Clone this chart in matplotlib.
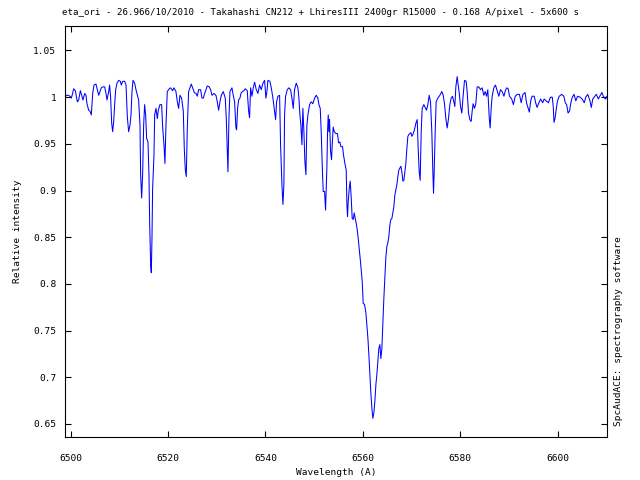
#spectrum of eta ori around H-alpha, values
import matplotlib
matplotlib.use('Agg')
import matplotlib.pyplot as plt
from matplotlib.ticker import FuncFormatter, MultipleLocator

title = 'eta_ori - 26.966/10/2010 - Takahashi CN212 + LhiresIII 2400gr R15000 - 0.168 A/pixel - 5x600 s'

#wavelength (A)
wavelength = [6498.80, 6498.87, 6499.08, 6499.49, 6499.90, 6500.17, 6500.38, 6500.65, 6500.99, 6501.20,
    6501.40, 6501.68, 6502.02, 6502.36, 6502.56, 6502.91, 6503.18, 6503.38, 6503.73, 6504.00,
    6504.27, 6504.55, 6504.82, 6505.23, 6505.50, 6505.78, 6506.05, 6506.32, 6506.60, 6507.01,
    6507.28, 6507.49, 6507.83, 6508.03, 6508.24, 6508.45, 6508.65, 6508.86, 6509.06, 6509.27,
    6509.54, 6509.88, 6510.22, 6510.43, 6510.70, 6511.11, 6511.39, 6511.66, 6511.93, 6512.21,
    6512.41, 6512.62, 6512.82, 6513.16, 6513.44, 6513.78, 6513.98, 6514.26, 6514.39, 6514.60,
    6514.80, 6515.01, 6515.21, 6515.42, 6515.62, 6515.90, 6516.10, 6516.24, 6516.45, 6516.58,
    6516.72, 6516.85, 6517.13, 6517.27, 6517.54, 6517.81, 6518.02, 6518.36, 6518.70, 6518.91,
    6519.18, 6519.38, 6519.59, 6519.86, 6520.27, 6520.55, 6520.96, 6521.23, 6521.64, 6521.92,
    6522.19, 6522.46, 6522.80, 6523.15, 6523.35, 6523.56, 6523.76, 6523.97, 6524.24, 6524.51,
    6524.79, 6525.06, 6525.40, 6525.74, 6526.02, 6526.29, 6526.70, 6526.98, 6527.25, 6527.66,
    6528.07, 6528.48, 6528.75, 6529.03, 6529.44, 6529.85, 6530.12, 6530.39, 6530.67, 6530.94,
    6531.35, 6531.76, 6531.97, 6532.17, 6532.31, 6532.51, 6532.72, 6533.13, 6533.40, 6533.68,
    6533.95, 6534.09, 6534.29, 6534.50, 6534.77, 6535.04, 6535.59, 6535.86, 6536.27, 6536.55,
    6536.75, 6536.96, 6537.23, 6537.50, 6537.78, 6538.12, 6538.46, 6538.80, 6539.15, 6539.49,
    6539.83, 6540.10, 6540.31, 6540.51, 6540.92, 6541.20, 6541.54, 6541.88, 6542.09, 6542.29,
    6542.56, 6542.91, 6543.11, 6543.39, 6543.59, 6543.79, 6543.93, 6544.14, 6544.48, 6544.82,
    6545.16, 6545.44, 6545.71, 6545.98, 6546.33, 6546.67, 6546.87, 6547.08, 6547.28, 6547.49,
    6547.69, 6547.90, 6548.10, 6548.31, 6548.51, 6548.72, 6549.06, 6549.40, 6549.74, 6550.09,
    6550.43, 6550.77, 6550.98, 6551.25, 6551.45, 6551.66, 6551.86, 6552.14, 6552.34, 6552.61,
    6552.75, 6552.89, 6553.03, 6553.16, 6553.37, 6553.57, 6553.71, 6553.91, 6554.12, 6554.46,
    6554.80, 6555.01, 6555.28, 6555.49, 6555.83, 6556.03, 6556.31, 6556.58, 6556.72, 6556.85,
    6556.99, 6557.20, 6557.40, 6557.61, 6557.81, 6558.02, 6558.22, 6558.43, 6558.63, 6558.84,
    6559.04, 6559.25, 6559.45, 6559.66, 6559.86, 6560.07, 6560.34, 6560.62, 6560.82, 6561.03,
    6561.23, 6561.44, 6561.64, 6561.85, 6562.05, 6562.26, 6562.46, 6562.67, 6562.87, 6563.08,
    6563.28, 6563.49, 6563.69, 6563.90, 6564.10, 6564.31, 6564.51, 6564.72, 6564.92, 6565.13,
    6565.33, 6565.54, 6565.74, 6565.95, 6566.15, 6566.36, 6566.56, 6566.77, 6566.97, 6567.18,
    6567.38, 6567.59, 6567.80, 6568.00, 6568.21, 6568.41, 6568.62, 6568.82, 6569.03, 6569.23,
    6569.44, 6569.64, 6569.85, 6570.05, 6570.26, 6570.46, 6570.67, 6570.87, 6571.15, 6571.35,
    6571.56, 6571.76, 6571.97, 6572.17, 6572.51, 6572.79, 6573.06, 6573.33, 6573.61, 6573.88,
    6574.15, 6574.36, 6574.50, 6574.63, 6574.84, 6575.04, 6575.38, 6575.80, 6576.21, 6576.48,
    6576.75, 6577.03, 6577.30, 6577.57, 6577.85, 6578.12, 6578.39, 6578.67, 6578.87, 6579.08,
    6579.35, 6579.56, 6579.83, 6580.04, 6580.31, 6580.58, 6580.86, 6581.20, 6581.40, 6581.68,
    6581.95, 6582.22, 6582.43, 6582.63, 6582.91, 6583.18, 6583.45, 6583.80, 6584.14, 6584.48,
    6584.82, 6585.10, 6585.37, 6585.64, 6585.92, 6586.12, 6586.33, 6586.53, 6586.87, 6587.21,
    6587.56, 6587.90, 6588.24, 6588.58, 6588.95, 6589.24, 6589.53, 6589.81, 6590.10, 6590.54,
    6590.90, 6591.26, 6591.70, 6592.13, 6592.49, 6592.85, 6593.29, 6593.58, 6593.94, 6594.16,
    6594.44, 6594.73, 6595.17, 6595.46, 6595.75, 6596.04, 6596.47, 6596.90, 6597.19, 6597.63,
    6598.06, 6598.49, 6598.86, 6599.07, 6599.22, 6599.43, 6599.65, 6599.94, 6600.30, 6600.81,
    6601.24, 6601.53, 6601.82, 6602.11, 6602.40, 6602.69, 6602.98, 6603.34, 6603.70, 6604.06,
    6604.57, 6605.00, 6605.44, 6605.73, 6606.16, 6606.60, 6606.88, 6607.17, 6607.61, 6607.90,
    6608.33, 6608.62, 6609.06, 6609.34, 6609.78, 6610.07, 6610.36]

#relative intensity
intensity = [1.013, 0.999, 1.002, 1.002, 1.001, 0.999, 1.003, 1.009, 1.007, 1.001,
    0.995, 0.997, 1.007, 1.001, 0.997, 1.004, 1.002, 0.993, 0.986, 0.985,
    0.981, 1.004, 1.013, 1.014, 1.008, 1.002, 1.006, 1.010, 1.011, 1.011,
    1.004, 0.997, 1.006, 1.013, 0.999, 0.972, 0.963, 0.974, 0.992, 1.008,
    1.015, 1.018, 1.017, 1.013, 1.017, 1.017, 1.013, 0.979, 0.963, 0.970,
    0.981, 1.006, 1.018, 1.015, 1.008, 1.001, 0.997, 0.970, 0.917, 0.892,
    0.917, 0.970, 0.992, 0.981, 0.956, 0.952, 0.917, 0.867, 0.820, 0.812,
    0.849, 0.902, 0.938, 0.981, 0.988, 0.977, 0.986, 0.992, 0.992, 0.968,
    0.949, 0.929, 0.970, 1.006, 1.009, 1.010, 1.007, 1.010, 1.006, 0.995,
    0.988, 1.002, 0.999, 0.985, 0.945, 0.922, 0.915, 0.967, 1.006, 1.010,
    1.014, 1.010, 1.005, 1.004, 1.001, 1.008, 1.008, 0.999, 0.999, 1.006,
    1.012, 1.011, 1.008, 1.002, 1.004, 1.002, 0.995, 0.986, 0.995, 1.002,
    1.006, 0.999, 0.977, 0.942, 0.920, 0.977, 1.006, 1.010, 1.002, 0.995,
    0.967, 0.965, 0.988, 0.997, 0.999, 1.005, 1.007, 1.009, 1.007, 0.985,
    0.978, 1.010, 1.001, 1.010, 1.016, 1.008, 1.004, 1.013, 1.008, 1.015,
    1.018, 0.999, 1.006, 1.018, 1.017, 1.010, 0.999, 0.985, 0.976, 0.995,
    1.001, 1.002, 0.949, 0.906, 0.885, 0.906, 0.981, 1.001, 1.008, 1.010,
    1.008, 0.999, 0.988, 1.008, 1.015, 1.010, 0.999, 0.981, 0.970, 0.949,
    0.988, 0.963, 0.931, 0.917, 0.970, 0.981, 0.992, 0.995, 0.993, 0.999,
    1.002, 0.999, 0.992, 0.988, 0.963, 0.927, 0.899, 0.899, 0.879, 0.924,
    0.963, 0.981, 0.963, 0.976, 0.942, 0.933, 0.949, 0.968, 0.963, 0.961,
    0.961, 0.951, 0.952, 0.947, 0.947, 0.938, 0.929, 0.922, 0.885, 0.872,
    0.888, 0.902, 0.910, 0.892, 0.870, 0.869, 0.876, 0.870, 0.865, 0.858,
    0.849, 0.838, 0.827, 0.815, 0.803, 0.779, 0.778, 0.769, 0.756, 0.742,
    0.724, 0.703, 0.683, 0.667, 0.656, 0.662, 0.674, 0.692, 0.703, 0.717,
    0.731, 0.735, 0.720, 0.731, 0.758, 0.785, 0.806, 0.829, 0.840, 0.844,
    0.851, 0.863, 0.869, 0.870, 0.876, 0.883, 0.895, 0.901, 0.906, 0.915,
    0.922, 0.924, 0.926, 0.920, 0.910, 0.911, 0.920, 0.929, 0.945, 0.958,
    0.960, 0.961, 0.962, 0.958, 0.960, 0.963, 0.967, 0.972, 0.976, 0.945,
    0.920, 0.911, 0.963, 0.988, 0.992, 0.989, 0.986, 0.992, 1.002, 0.995,
    0.963, 0.920, 0.897, 0.920, 0.963, 0.995, 0.999, 1.002, 1.006, 1.002,
    0.993, 0.977, 0.967, 0.977, 0.992, 0.999, 1.001, 0.995, 0.990, 1.011,
    1.022, 1.013, 1.002, 0.990, 0.983, 1.002, 1.018, 1.017, 1.006, 0.983,
    0.976, 0.974, 0.985, 0.993, 0.988, 0.993, 1.011, 1.011, 1.008, 1.010,
    1.002, 1.006, 1.001, 1.008, 0.979, 0.967, 0.988, 1.001, 1.010, 1.013,
    1.007, 1.001, 1.008, 1.006, 1.001, 1.007, 1.010, 1.009, 1.001, 0.998,
    0.992, 1.001, 1.003, 1.003, 0.994, 1.003, 1.005, 0.994, 0.988, 0.984,
    0.996, 1.001, 1.001, 0.994, 0.989, 0.993, 0.998, 0.994, 0.998, 0.996,
    0.994, 1.000, 1.000, 0.990, 0.973, 0.977, 0.986, 0.996, 1.001, 1.003,
    1.001, 0.994, 0.992, 0.983, 0.985, 0.994, 1.000, 1.003, 0.996, 1.001,
    1.000, 0.998, 0.994, 1.000, 1.003, 0.996, 0.989, 0.998, 1.001, 1.003,
    0.998, 1.001, 1.005, 1.001, 0.998, 1.001, 0.994]

xticks = [6500, 6520, 6540, 6560, 6580, 6600]
yticks = [0.65, 0.7, 0.75, 0.8, 0.85, 0.9, 0.95, 1.0, 1.05]

fs = 6.8
plt.rcParams['font.family'] = ['DejaVu Sans Mono']
plt.rcParams['font.size'] = fs

fig = plt.figure(figsize=(6.4, 4.8), dpi=100)
ax = fig.add_axes([0.1008, 0.0896, 0.8484, 0.8552])
ax.plot(wavelength, intensity, color='#0000ff', lw=0.75)

ax.set_xlim(6498.77, 6610.2)
ax.set_ylim(0.636, 1.0757)
ax.set_xticks(xticks)
ax.set_yticks(yticks)
ax.yaxis.set_major_formatter(FuncFormatter(lambda v, p: '%g' % v))
ax.tick_params(direction='in', top=True, right=True, length=4, width=0.8,
               labelsize=fs, pad=6)
ax.tick_params(axis='x', pad=12)
for s in ax.spines.values():
    s.set_linewidth(0.8)

ax.set_xlabel('Wavelength (A)', fontsize=fs, labelpad=4)
ax.set_ylabel('Relative intensity', fontsize=fs, labelpad=8)
fig.text(0.5, 0.974, title, ha='center', va='center', fontsize=6.6)
fig.text(0.966, 0.31, 'SpcAudACE: spectrography software', rotation=90,
         ha='center', va='center', fontsize=fs)

fig.savefig('out.png', dpi=100)
